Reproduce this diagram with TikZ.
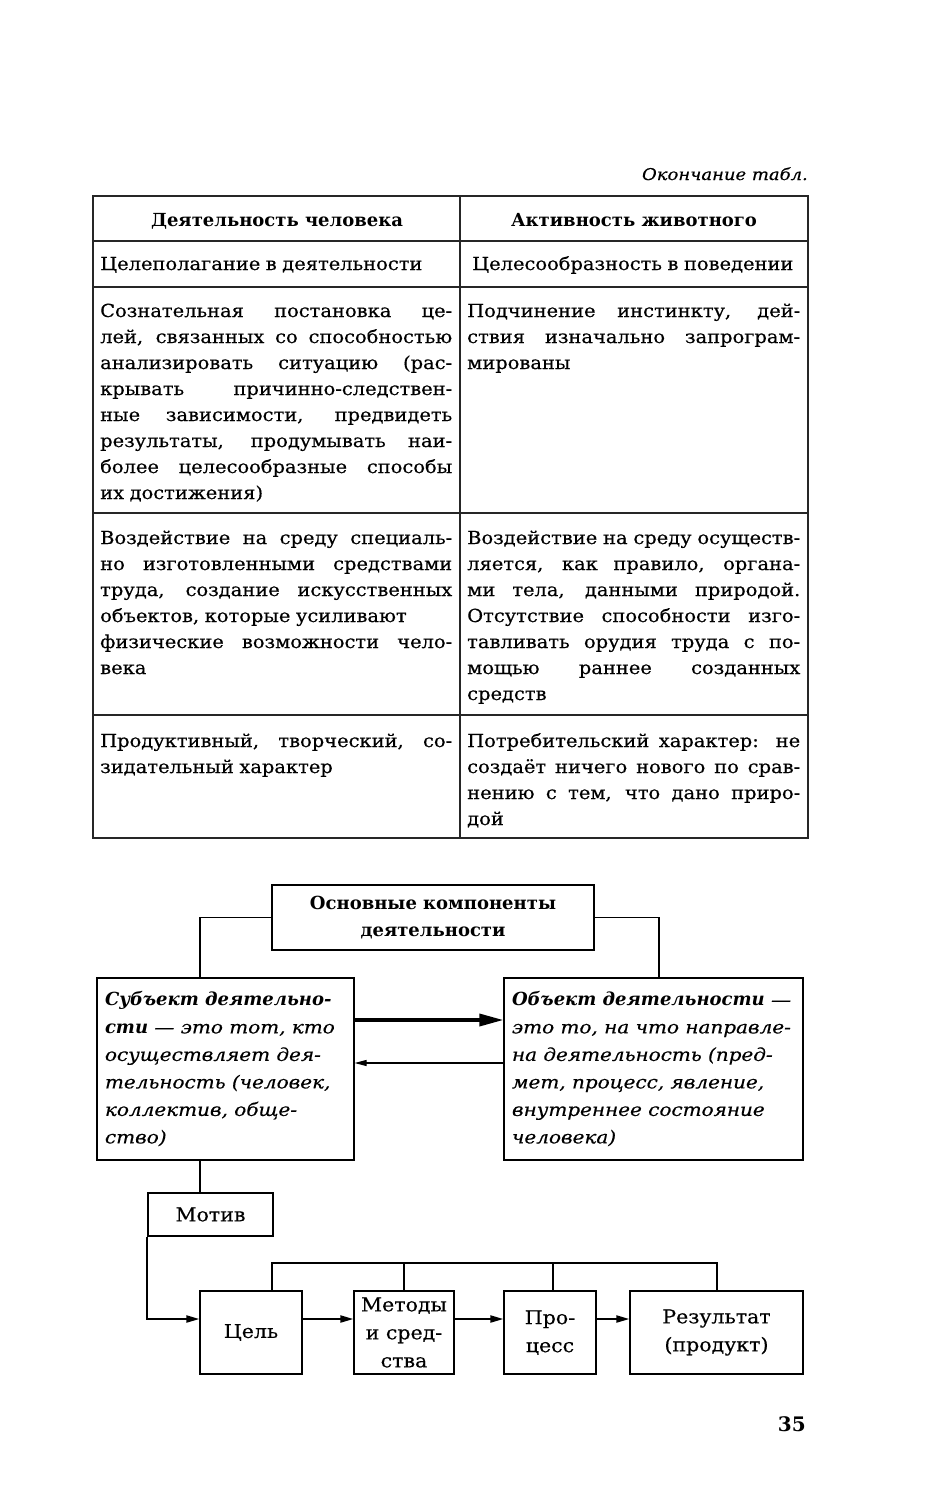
\documentclass[tikz,border=0pt]{standalone}
\usepackage{fontspec}
\setmainfont{DejaVu Serif}[
  UprightFeatures={FakeStretch=1.08,FakeBold=0.4},
  BoldFeatures={FakeStretch=1.0},
  ItalicFeatures={FakeStretch=1.11,FakeBold=0.4},
  BoldItalicFeatures={FakeStretch=1.0}]
\usetikzlibrary{arrows.meta,calc}
\newcommand\bodyf{\fontsize{18}{26}\selectfont\fontdimen2\font=5.5pt }
\newcommand\flowf{\fontsize{19}{28}\selectfont}
\newcommand\bodyb{\fontsize{18}{27}\selectfont\bfseries}
\newcommand\bodyi{\fontsize{18}{27.5}\selectfont\itshape}
\newcommand\JA[1]{\makebox[352pt][s]{\spaceskip=4pt plus 1fil\relax #1}}
\newcommand\JB[1]{\makebox[333pt][s]{\spaceskip=4pt plus 1fil\relax #1}}
\begin{document}
\begin{tikzpicture}[x=1pt,y=-1pt,
  tab/.style={line width=1.1pt, draw=black!85},
  cell/.style={anchor=base west, inner sep=0pt, text width=#1, align=flush left, font=\bodyf},
  line/.style={anchor=base west, inner sep=0pt, font=\bodyf},
  box/.style={draw, line width=1.2pt, inner sep=0pt, minimum width=#1},
  conn/.style={line width=1.1pt},
  arr/.style={line width=2pt, -{Triangle[length=13pt,width=7pt]}},
  bigarr/.style={line width=3.4pt, -{Triangle[length=24pt,width=12pt]}},
  backarr/.style={line width=1.1pt, -{Triangle[length=12pt,width=6pt]}}]
\useasboundingbox (0,0) rectangle (930,1500);
\fill[white] (0,0) rectangle (930,1500);

% caption
\node[anchor=base east, inner sep=0pt, font=\fontsize{16.2}{20}\selectfont\itshape] (cap) at (808,180) {Окончание табл.};

% table grid
\draw[tab] (93,196) rectangle (808,838);
\draw[tab] (460,196) -- (460,838);
\foreach \yy in {241,287,513,715} \draw[tab] (93,\yy) -- (808,\yy);

% header
\node[anchor=base, inner sep=0pt, font=\bodyb] (h1) at (277,226) {Деятельность человека};
\node[anchor=base, inner sep=0pt, font=\bodyb] (h2) at (634,226) {Активность животного};

% row 2
\node[line] (r2a) at (100,270) {Целеполагание в деятельности};
\node[line] (r2b) at (472,270) {Целесообразность в поведении};

% row 3
\node[cell=352pt] (r3a) at (100,317) {\JA{Сознательная постановка це-}\\
\JA{лей, связанных со способностью}\\
\JA{анализировать ситуацию (рас-}\\
\JA{крывать причинно-следствен-}\\
\JA{ные зависимости, предвидеть}\\
\JA{результаты, продумывать наи-}\\
\JA{более целесообразные способы}\\
их достижения)};
\node[cell=333pt] (r3b) at (467,317) {\JB{Подчинение инстинкту, дей-}\\
\JB{ствия изначально запрограм-}\\
мированы};

% row 4
\node[cell=352pt] (r4a) at (100,544) {\JA{Воздействие на среду специаль-}\\
\JA{но изготовленными средствами}\\
\JA{труда, создание искусственных}\\
объектов, которые усиливают\\
\JA{физические возможности чело-}\\
века};
\node[cell=333pt] (r4b) at (467,544) {\JB{Воздействие на среду осуществ-}\\
\JB{ляется, как правило, органа-}\\
\JB{ми тела, данными природой.}\\
\JB{Отсутствие способности изго-}\\
\JB{тавливать орудия труда с по-}\\
\JB{мощью раннее созданных}\\
средств};

% row 5
\node[cell=352pt] (r5a) at (100,747) {\JA{Продуктивный, творческий, со-}\\
зидательный характер};
\node[cell=333pt] (r5b) at (467,747) {\JB{Потребительский характер: не}\\
\JB{создаёт ничего нового по срав-}\\
\JB{нению с тем, что дано приро-}\\
дой};

% diagram
\node[box=322pt, minimum height=65pt, font=\bodyb, align=center] (top) at (433,917.5) {Основные компоненты\\деятельности};

\node[box=257pt, minimum height=182pt, inner xsep=8pt, text width=241pt, align=flush left, font=\bodyi] (subj) at (225.5,1069)
{\mbox{\textbf{Субъект деятельно-}}\\
\mbox{\textbf{сти} — это тот, кто}\\
\mbox{осуществляет дея-}\\
\mbox{тельность (человек,}\\
\mbox{коллектив, обще-}\\
\mbox{ство)}};

\node[box=299pt, minimum height=182pt, inner xsep=8pt, text width=283pt, align=flush left, font=\bodyi] (obj) at (653.5,1069)
{\mbox{\textbf{Объект деятельности} —}\\
\mbox{это то, на что направле-}\\
\mbox{на деятельность (пред-}\\
\mbox{мет, процесс, явление,}\\
\mbox{внутреннее состояние}\\
\mbox{человека)}};

\coordinate (sl) at (200,978);
\coordinate (sr) at (659,978);
\draw[conn] (top.west) -| (sl);
\draw[conn] (top.east) -| (sr);

\draw[bigarr] ($(subj.east)+(0,-49)$) -- ($(obj.west)+(0,-49)$);
\draw[backarr] ($(obj.west)+(0,-6)$) -- ($(subj.east)+(0,-6)$);

\node[box=125pt, minimum height=43pt, font=\flowf] (motiv) at (210.5,1214.5) {Мотив};
\coordinate (ml) at (200,1160);
\draw[conn] (ml) -- (ml |- motiv.north);

\node[box=102pt, minimum height=83pt, font=\flowf] (goal) at (251,1332.5) {Цель};
\node[box=100pt, minimum height=83pt, font=\flowf, align=center] (meth) at (404,1332.5) {Методы\\и сред-\\ства};
\node[box=92pt, minimum height=83pt, font=\flowf, align=center] (proc) at (550,1332.5) {Про-\\цесс};
\node[box=173pt, minimum height=83pt, font=\flowf, align=center] (res) at (716.5,1332.5) {Результат\\(продукт)};

\draw[arr] (motiv.south west) |- ($(goal.west)+(0,-13.5)$);
\draw[arr] ($(goal.east)+(0,-13.5)$) -- ($(meth.west)+(0,-13.5)$);
\draw[arr] ($(meth.east)+(0,-13.5)$) -- ($(proc.west)+(0,-13.5)$);
\draw[arr] ($(proc.east)+(0,-13.5)$) -- ($(res.west)+(0,-13.5)$);

\coordinate (t1) at (272,1263);
\coordinate (t2) at (404,1263);
\coordinate (t3) at (553,1263);
\coordinate (t4) at (717,1263);
\draw[conn] (t1 |- goal.north) -- (t1) -- (t4) -- (t4 |- res.north);
\draw[conn] (t2) -- (t2 |- meth.north);
\draw[conn] (t3) -- (t3 |- proc.north);

\node[anchor=base east, inner sep=0pt, font=\fontsize{20}{24}\selectfont\bfseries] (pg) at (806,1431) {35};
\end{tikzpicture}
\end{document}
